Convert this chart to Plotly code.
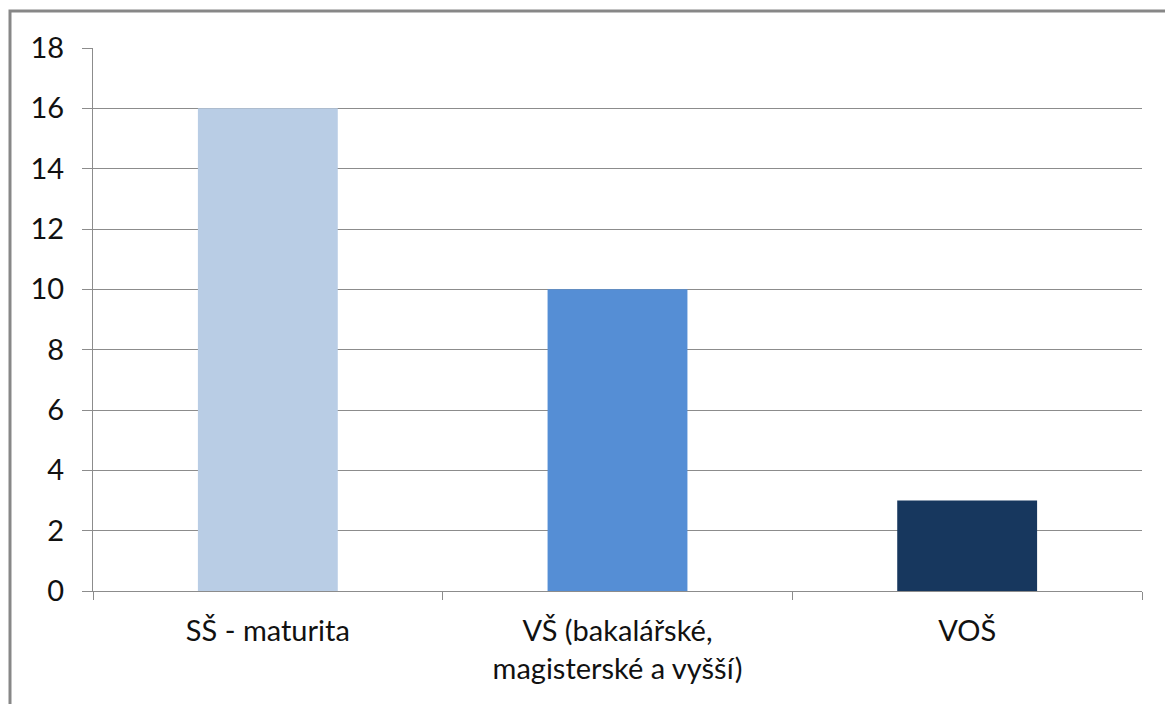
import plotly.graph_objects as go

# Education level categories and respondent counts
categories = ["SŠ - maturita", "VŠ (bakalářské,<br>magisterské a vyšší)", "VOŠ"]
counts = [16, 10, 3]
bar_colors = ["#B9CDE5", "#558ED5", "#17375E"]
y_ticks = [0, 2, 4, 6, 8, 10, 12, 14, 16, 18]

W, H = 1165, 704
m_left, m_right, m_top, m_bottom = 93, 23, 48, 113
plot_w = W - m_left - m_right
plot_h = H - m_top - m_bottom

font_family = "Lato, 'Open Sans', sans-serif"
grid_col = "#8C8C8C"

fig = go.Figure(
    go.Bar(
        x=categories,
        y=counts,
        marker=dict(color=bar_colors, line=dict(width=0)),
        width=0.4,
        hoverinfo="x+y",
    )
)

fig.update_layout(
    width=W,
    height=H,
    margin=dict(l=m_left, r=m_right, t=m_top, b=m_bottom, pad=0),
    paper_bgcolor="white",
    plot_bgcolor="white",
    showlegend=False,
    font=dict(family=font_family, size=29, color="#111111"),
)

fig.update_yaxes(
    range=[0, 18],
    tickvals=y_ticks,
    showgrid=True,
    gridcolor=grid_col,
    gridwidth=1,
    showline=True,
    linecolor=grid_col,
    linewidth=1,
    ticks="outside",
    ticklen=10,
    tickcolor=grid_col,
    ticklabelstandoff=12,
    zeroline=False,
    fixedrange=True,
)

fig.update_xaxes(
    showline=True,
    linecolor=grid_col,
    linewidth=1,
    ticks="outside",
    tickson="boundaries",
    ticklen=8,
    tickcolor=grid_col,
    ticklabelstandoff=14,
    showgrid=False,
    fixedrange=True,
)

# Outer frame around the whole chart
fig.add_shape(
    type="rect",
    xref="paper",
    yref="paper",
    x0=(10 - m_left) / plot_w,
    x1=(W + 20 - m_left) / plot_w,
    y0=-(H + 20 - (H - m_bottom)) / plot_h,
    y1=((H - m_bottom) - 11) / plot_h,
    line=dict(color="#878787", width=3),
    layer="below",
)

fig.write_html("out.html")
